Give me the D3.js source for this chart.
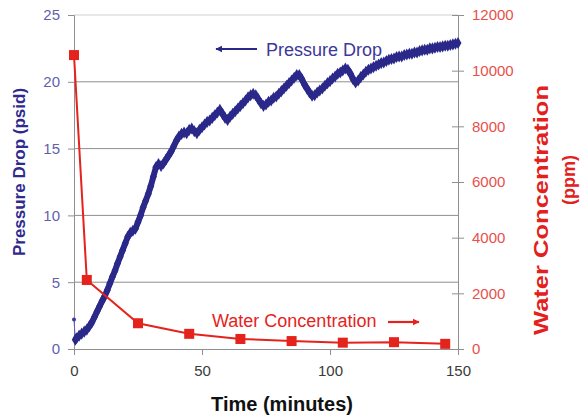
<!DOCTYPE html>
<html><head><meta charset="utf-8">
<script src="https://cdn.jsdelivr.net/npm/d3@7"></script>
<style>
body{margin:0;background:#fff;}
svg{display:block;font-family:"Liberation Sans",Arial,sans-serif;}
</style></head>
<body><svg id="c" width="580" height="417"></svg>
<script>
// ---- data ----
const leftTicks = [0, 5, 10, 15, 20, 25];
const rightTicks = [0, 2000, 4000, 6000, 8000, 10000, 12000];
const xTicks = [0, 50, 100, 150];
const waterTime = [0, 5, 25, 45, 65, 85, 105, 125, 145];
const waterPpm = [10560, 2480, 925, 545, 360, 285, 228, 245, 185];
const pressureTime = [0, 0.5, 1, 2, 3, 4, 5, 6, 7, 8, 9, 10, 11, 12, 13, 14, 15, 16, 17, 18, 19, 20,
  21, 22, 23, 24, 25, 26, 27, 28, 29, 30, 31, 32, 33, 34, 35, 36, 37, 38, 39, 40,
  41, 42, 43, 44, 45, 46, 47, 48, 49, 50, 51, 52, 53, 54, 55, 56, 57, 58, 59, 60,
  61, 62, 63, 64, 65, 66, 67, 68, 69, 70, 71, 72, 73, 74, 75, 76, 77, 78, 79, 80,
  81, 82, 83, 84, 85, 86, 87, 88, 89, 90, 91, 92, 93, 94, 95, 96, 97, 98, 99, 100,
  101, 102, 103, 104, 105, 106, 107, 108, 109, 110, 111, 112, 113, 114, 115, 116, 117, 118, 119, 120,
  121, 122, 123, 124, 125, 126, 127, 128, 129, 130, 131, 132, 133, 134, 135, 136, 137, 138, 139, 140,
  141, 142, 143, 144, 145, 146, 147, 148, 149, 150];
const pressurePsid = [2.2, 0.7, 0.8, 1.0, 1.15, 1.3, 1.45, 1.7, 2.0, 2.4, 2.8, 3.2,
  3.6, 3.95, 4.4, 4.9, 5.4, 5.85, 6.4, 6.9, 7.4, 7.9,
  8.4, 8.7, 8.85, 9.0, 9.5, 10.0, 10.6, 11.1, 11.6, 12.2, 12.9, 13.6, 13.85, 13.7, 13.9, 14.2, 14.5, 14.8, 15.2, 15.6,
  15.9, 16.1, 16.2, 16.15, 16.4, 16.5, 16.3, 16.15, 16.4, 16.6, 16.8, 17.0, 17.1, 17.3, 17.5, 17.7, 17.9, 17.6, 17.3, 17.15,
  17.4, 17.6, 17.8, 18.0, 18.2, 18.4, 18.6, 18.85, 19.0, 19.1, 19.0, 18.7, 18.4, 18.2, 18.3, 18.5, 18.6, 18.8, 18.9, 19.1,
  19.3, 19.5, 19.7, 19.9, 20.1, 20.3, 20.5, 20.5, 20.2, 19.8, 19.5, 19.2, 18.95, 19.0, 19.2, 19.35, 19.5, 19.7, 19.9, 20.05,
  20.25, 20.4, 20.6, 20.7, 20.85, 21.0, 20.9, 20.6, 20.2, 19.95, 20.1, 20.35, 20.55, 20.75, 20.9, 21.0, 21.1, 21.2, 21.3, 21.4,
  21.45, 21.55, 21.65, 21.7, 21.75, 21.85, 21.9, 21.9, 22.0, 22.05, 22.1, 22.1, 22.2, 22.2, 22.3, 22.35, 22.4, 22.4, 22.5, 22.5,
  22.55, 22.6, 22.6, 22.65, 22.7, 22.7, 22.75, 22.8, 22.85, 22.9];

// ---- layout ----
const svg = d3.select("#c");
const X0 = 74, X1 = 458, YT = 15, YB = 349;
const x = d3.scaleLinear().domain([0, 150]).range([X0, X1]);
const yL = d3.scaleLinear().domain([0, 25]).range([YB, YT]);
const yR = d3.scaleLinear().domain([0, 12000]).range([YB, YT]);

const blue = "#2a2889", red = "#e5231d";

// gridlines
svg.append("g").selectAll("line").data(leftTicks.filter(d => d > 0)).join("line")
  .attr("x1", X0).attr("x2", X1).attr("y1", d => yL(d)).attr("y2", d => yL(d))
  .attr("stroke", d => d === 25 ? "#cfcfcf" : "#8f8f8f").attr("stroke-width", 1);

// left axis
const gL = svg.append("g").attr("transform", `translate(${X0},0)`)
  .call(d3.axisLeft(yL).tickValues(leftTicks).tickSize(6).tickPadding(8));
gL.selectAll("path,line").attr("stroke", "#8f8f8f");
gL.selectAll("text").attr("fill", "#625fae").attr("font-size", 15).attr("font-family", "Liberation Sans, Arial, sans-serif");

// bottom axis
const gB = svg.append("g").attr("transform", `translate(0,${YB})`)
  .call(d3.axisBottom(x).tickValues(xTicks).tickSize(6).tickPadding(10).tickSizeOuter(0));
gB.selectAll("path,line").attr("stroke", "#8f8f8f");
gB.selectAll("text").attr("fill", "#3a3a3a").attr("font-size", 15).attr("font-family", "Liberation Sans, Arial, sans-serif");

// right axis (cross ticks)
const gR = svg.append("g").attr("transform", `translate(${X1},0)`)
  .call(d3.axisRight(yR).tickValues(rightTicks).tickSize(6).tickPadding(8).tickSizeOuter(0).tickFormat(d3.format("d")));
gR.selectAll("path,line").attr("stroke", "#8f8f8f");
gR.selectAll(".tick line").attr("x1", -6);
gR.selectAll("text").attr("fill", "#e8504a").attr("font-size", 15).attr("font-family", "Liberation Sans, Arial, sans-serif");

// pressure series
const pdata = pressureTime.map((t, i) => [t, pressurePsid[i]]);
svg.append("path").datum(pdata.slice(0, 2))
  .attr("d", d3.line().x(d => x(d[0])).y(d => yL(d[1])))
  .attr("stroke", "#5a57c0").attr("stroke-width", 1).attr("fill", "none");
svg.append("path").datum(pdata.slice(1))
  .attr("d", d3.line().x(d => x(d[0])).y(d => yL(d[1])))
  .attr("stroke", blue).attr("stroke-width", 6).attr("fill", "none").attr("stroke-linejoin", "round");
const diamond = d3.symbol().type(d3.symbolDiamond).size(42);
svg.append("g").selectAll("path").data(pdata.slice(1)).join("path")
  .attr("d", diamond).attr("transform", d => `translate(${x(d[0])},${yL(d[1])})`)
  .attr("fill", blue);
svg.append("circle").attr("cx", x(pdata[0][0])).attr("cy", yL(pdata[0][1])).attr("r", 2).attr("fill", "#3a37a0");

// water series
const wdata = waterTime.map((t, i) => [t, waterPpm[i]]);
svg.append("path").datum(wdata)
  .attr("d", d3.line().x(d => x(d[0])).y(d => yR(d[1])))
  .attr("stroke", red).attr("stroke-width", 2).attr("fill", "none");
svg.append("g").selectAll("rect").data(wdata).join("rect")
  .attr("x", d => x(d[0]) - 5).attr("y", d => yR(d[1]) - 5)
  .attr("width", 10).attr("height", 10).attr("fill", red);

// annotations
const defs = svg.append("defs");
[["ab", blue], ["ar", red]].forEach(([id, c]) => {
  defs.append("marker").attr("id", id).attr("viewBox", "0 0 10 10").attr("refX", 9).attr("refY", 5)
    .attr("markerWidth", 3.2).attr("markerHeight", 3.2).attr("orient", "auto")
    .append("path").attr("d", "M0,0 L10,5 L0,10 Z").attr("fill", c);
});
svg.append("line").attr("x1", 257).attr("y1", 49).attr("x2", 216).attr("y2", 49)
  .attr("stroke", blue).attr("stroke-width", 2.2).attr("marker-end", "url(#ab)");
svg.append("text").attr("x", 266).attr("y", 56).attr("font-size", 18).attr("fill", "#3b3899")
  .text("Pressure Drop");
svg.append("text").attr("x", 212).attr("y", 327).attr("font-size", 18).attr("fill", red)
  .text("Water Concentration");
svg.append("line").attr("x1", 388).attr("y1", 322).attr("x2", 419).attr("y2", 322)
  .attr("stroke", red).attr("stroke-width", 2.2).attr("marker-end", "url(#ar)");

// axis titles
svg.append("text").attr("transform", "translate(19,172) rotate(-90)")
  .attr("text-anchor", "middle").attr("dominant-baseline", "central")
  .attr("font-size", 17).attr("font-weight", "bold").attr("fill", "#2e2a8e")
  .text("Pressure Drop (psid)");
svg.append("text").attr("transform", "translate(540,210) rotate(-90)")
  .attr("text-anchor", "middle").attr("dominant-baseline", "central")
  .attr("font-size", 21).attr("font-weight", "bold").attr("fill", "#e3201b")
  .attr("textLength", 250).attr("lengthAdjust", "spacingAndGlyphs")
  .text("Water Concentration");
svg.append("text").attr("transform", "translate(568,180) rotate(-90)")
  .attr("text-anchor", "middle").attr("dominant-baseline", "central")
  .attr("font-size", 19).attr("font-weight", "bold").attr("fill", "#e3201b")
  .attr("textLength", 50).attr("lengthAdjust", "spacingAndGlyphs")
  .text("(ppm)");
svg.append("text").attr("x", 282).attr("y", 411).attr("text-anchor", "middle")
  .attr("font-size", 20).attr("font-weight", "bold").attr("fill", "#111")
  .text("Time (minutes)");
</script></body></html>
